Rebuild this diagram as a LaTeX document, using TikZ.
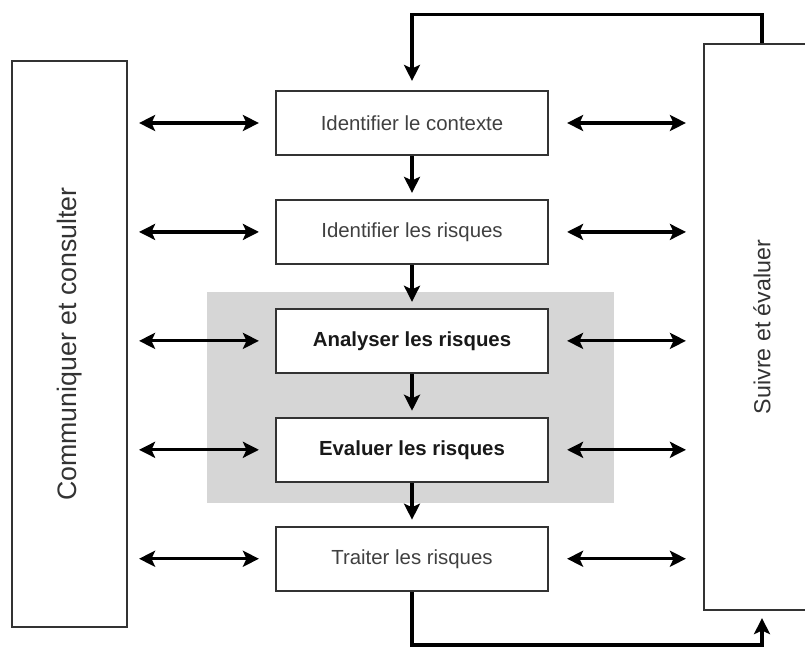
\documentclass[tikz,border=0pt]{standalone}
\usepackage{fontspec}
\setmainfont{Liberation Sans}
\usetikzlibrary{arrows.meta,positioning}
\tikzset{
  px/.style={x=0.025cm, y=-0.025cm},
  stepbox/.style={draw=black!80, line width=1.5pt, fill=white, minimum width=6.8cm, minimum height=1.6cm,
    font=\fontsize{14.5}{17}\selectfont, text=black!75},
  keybox/.style={stepbox, font=\fontsize{14.5}{17}\selectfont\bfseries, text=black!90},
  sidebox/.style={draw=black!80, line width=1.5pt, fill=white, minimum height=14.15cm},
  zone/.style={fill=black!16},
  tip/.tip={Stealth[length=4mm, width=4mm, inset=0.9mm]},
  flow/.style={black, line width=2.3pt, -tip},
  dflow/.style={black, line width=2.3pt, tip-tip},
}
\begin{document}
\begin{tikzpicture}[px, node distance=1.07cm]
  \useasboundingbox (0,0) rectangle (805,650);

  % --- grey band behind the analysis steps ---
  \fill[zone] (207,292) rectangle (614,503);

  % --- side boxes ---
  \node[sidebox, minimum width=2.875cm,
    label={[rotate=90, font=\fontsize{19}{22}\selectfont, text=black!80]center:Communiquer et consulter}]
    (com) at (69.5,344) {};
  \node[sidebox, minimum width=2.9cm,
    label={[rotate=90, font=\fontsize{16.5}{19}\selectfont, text=black!80]center:Suivre et évaluer}]
    (suiv) at (762,327) {};

  % --- process steps ---
  \node[stepbox] (ctx) at (412,123) {Identifier le contexte};
  \node[stepbox, below=of ctx] (ident) {Identifier les risques};
  \node[keybox, below=of ident] (anal) {Analyser les risques};
  \node[keybox, below=of anal] (eval) {Evaluer les risques};
  \node[stepbox, below=of eval] (trait) {Traiter les risques};
  \coordinate (low) at (412,645);

  % --- links to the side boxes ---
  \foreach \s in {ctx,ident,anal,eval,trait} {
    \draw[dflow, shorten <=0.275cm, shorten >=0.4cm] (com.east |- \s.west) -- (\s.west);
    \draw[dflow, shorten <=0.45cm, shorten >=0.425cm] (\s.east) -- (suiv.west |- \s.east);
  }

  % --- main chain ---
  \foreach \a/\b in {ctx/ident,ident/anal,anal/eval,eval/trait}
    \draw[flow, shorten >=0.15cm] (\a.south) -- (\b.north);

  % --- feedback loops ---
  \draw[flow, shorten >=0.225cm] (suiv.north) -- ++(0,-28) -| (ctx.north);
  \draw[flow, shorten >=0.175cm] (trait.south) -- (low) -| (suiv.south);
\end{tikzpicture}
\end{document}
